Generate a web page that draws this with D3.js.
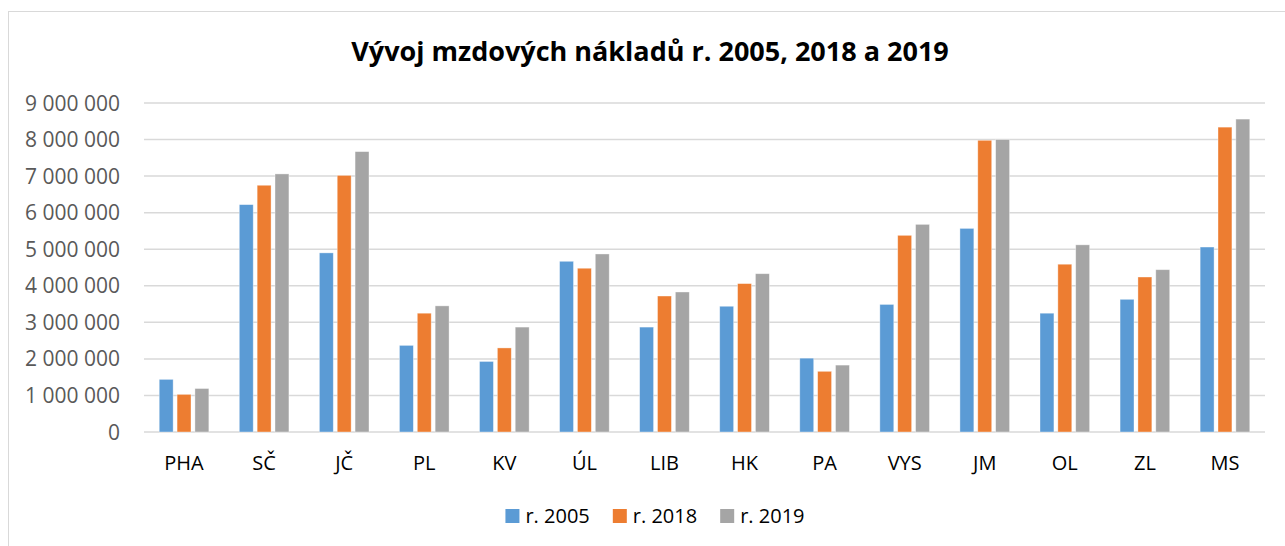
<!DOCTYPE html>
<html>
<head>
<meta charset="utf-8">
<script src="https://cdn.jsdelivr.net/npm/d3@7"></script>
<style>
  body { margin: 0; background: #fff; }
  text { font-family: "Open Sans", sans-serif; }
</style>
</head>
<body>
<div id="canvas"></div>
<script>
const categories = ['PHA', 'SČ', 'JČ', 'PL', 'KV', 'ÚL', 'LIB', 'HK', 'PA', 'VYS', 'JM', 'OL', 'ZL', 'MS'];
const seriesNames = ['r. 2005', 'r. 2018', 'r. 2019'];
const values2005 = [1440000, 6220000, 4900000, 2370000, 1930000, 4670000, 2870000, 3440000, 2020000, 3490000, 5570000, 3250000, 3630000, 5060000];
const values2018 = [1030000, 6750000, 7020000, 3250000, 2300000, 4480000, 3720000, 4060000, 1660000, 5380000, 7980000, 4590000, 4240000, 8340000];
const values2019 = [1190000, 7060000, 7670000, 3450000, 2870000, 4870000, 3830000, 4330000, 1830000, 5680000, 8000000, 5120000, 4440000, 8560000];
const yTicks = [0, 1000000, 2000000, 3000000, 4000000, 5000000, 6000000, 7000000, 8000000, 9000000];
const colors = ['#5B9BD5', '#ED7D31', '#A5A5A5'];

(function (d3) {
  'use strict';

  const width = 1285;
  const height = 546;
  const margin = { left: 144, right: 20, top: 103, bottom: 114 };

  const svg = d3.select('#canvas')
    .append('svg')
    .attr('width', width)
    .attr('height', height);

  // chart area border
  svg.append('rect')
    .attr('x', 8.5).attr('y', 11.5)
    .attr('width', width + 20).attr('height', height + 20)
    .attr('fill', 'none')
    .attr('stroke', '#d9d9d9')
    .attr('stroke-width', 1);

  const series = [values2005, values2018, values2019];
  const rows = categories.map((c, i) => ({
    cat: c,
    vals: series.map((s, j) => ({ key: seriesNames[j], value: s[i], idx: j }))
  }));

  const x0 = d3.scaleBand()
    .domain(categories)
    .range([margin.left, width - margin.right])
    .paddingInner(0.38)
    .paddingOuter(0.19);

  const x1 = d3.scaleBand()
    .domain(seriesNames)
    .range([0, x0.bandwidth()])
    .paddingInner(0.22);

  const y = d3.scaleLinear()
    .domain([0, 9000000])
    .range([height - margin.bottom, margin.top]);

  const fmt = (v) => d3.format(',')(v).replace(/,/g, ' ');

  // gridlines
  svg.append('g')
    .selectAll('line')
    .data(yTicks)
    .enter()
    .append('line')
    .attr('x1', margin.left)
    .attr('x2', width - margin.right)
    .attr('y1', (d) => y(d))
    .attr('y2', (d) => y(d))
    .attr('stroke', '#d9d9d9')
    .attr('stroke-width', 1.5);

  // y labels
  svg.append('g')
    .selectAll('text')
    .data(yTicks)
    .enter()
    .append('text')
    .attr('x', 120)
    .attr('y', (d) => y(d))
    .attr('dy', '0.36em')
    .attr('text-anchor', 'end')
    .attr('fill', '#595959')
    .style('font-size', '21px')
    .text(fmt);

  // bars
  const groups = svg.append('g')
    .selectAll('g')
    .data(rows)
    .enter()
    .append('g')
    .attr('transform', (d) => `translate(${x0(d.cat)},0)`);

  groups.selectAll('rect')
    .data((d) => d.vals)
    .enter()
    .append('rect')
    .attr('x', (d) => x1(d.key))
    .attr('width', x1.bandwidth())
    .attr('y', (d) => y(d.value))
    .attr('height', (d) => y(0) - y(d.value))
    .attr('fill', (d) => colors[d.idx])
    .attr('stroke', '#fff')
    .attr('stroke-opacity', 0.5)
    .attr('stroke-width', 0.75);

  // category labels
  svg.append('g')
    .selectAll('text')
    .data(categories)
    .enter()
    .append('text')
    .attr('x', (d) => x0(d) + x0.bandwidth() / 2)
    .attr('y', 470)
    .attr('text-anchor', 'middle')
    .attr('fill', '#000')
    .style('font-size', '20px')
    .text((d) => d);

  // title
  svg.append('text')
    .attr('x', 650)
    .attr('y', 61)
    .attr('text-anchor', 'middle')
    .attr('fill', '#000')
    .style('font-size', '27px')
    .style('font-weight', 'bold')
    .text('Vývoj mzdových nákladů r. 2005, 2018 a 2019');

  // legend
  const legend = svg.append('g');
  let lx = 0;
  seriesNames.forEach((name, i) => {
    legend.append('rect')
      .attr('x', lx).attr('y', 509)
      .attr('width', 14).attr('height', 14)
      .attr('fill', colors[i]);
    const t = legend.append('text')
      .attr('x', lx + 20).attr('y', 523)
      .attr('fill', '#000')
      .style('font-size', '20px')
      .text(name);
    lx += 20 + t.node().getComputedTextLength() + 23;
  });
  const legendW = lx - 23;
  legend.attr('transform', `translate(${655 - legendW / 2},0)`);

}(d3));
</script>
</body>
</html>
